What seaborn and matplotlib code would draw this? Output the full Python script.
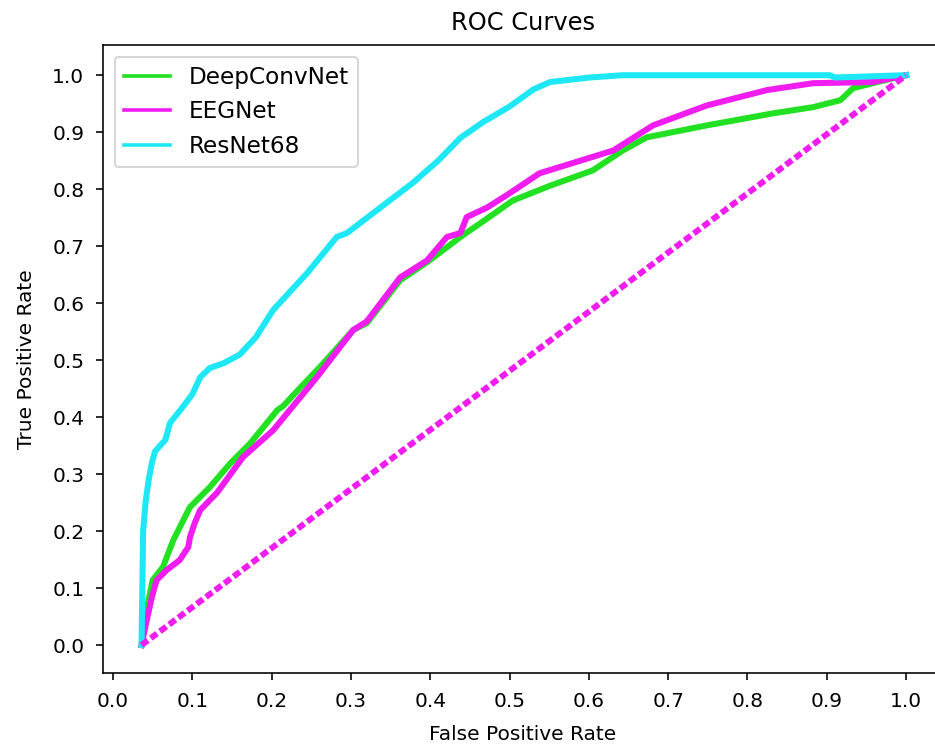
import numpy as np
import pandas as pd
import matplotlib
matplotlib.use("Agg")
import matplotlib.pyplot as plt
import seaborn as sns

# ROC points
fpr_deep = [0.036, 0.042, 0.050, 0.063, 0.076, 0.097, 0.122, 0.148, 0.173, 0.207, 0.215, 0.235,
            0.261, 0.303, 0.320, 0.362, 0.396, 0.421, 0.438, 0.463, 0.504, 0.551, 0.605, 0.643,
            0.673, 0.749, 0.832, 0.883, 0.917, 0.933, 0.958, 1.0]
tpr_deep = [0.0, 0.06, 0.114, 0.137, 0.184, 0.242, 0.277, 0.319, 0.354, 0.412, 0.42, 0.45,
            0.488, 0.553, 0.565, 0.640, 0.672, 0.698, 0.716, 0.740, 0.780, 0.806, 0.833, 0.868,
            0.891, 0.912, 0.933, 0.944, 0.956, 0.977, 0.986, 1.0]

fpr_eeg = [0.036, 0.042, 0.049, 0.055, 0.068, 0.084, 0.095, 0.097, 0.103, 0.110, 0.131, 0.164,
           0.202, 0.257, 0.303, 0.320, 0.362, 0.396, 0.421, 0.438, 0.446, 0.472, 0.497, 0.538,
           0.580, 0.631, 0.681, 0.749, 0.825, 0.883, 0.958, 1.0]
tpr_eeg = [0.0, 0.04, 0.084, 0.114, 0.132, 0.149, 0.172, 0.189, 0.214, 0.237, 0.267, 0.330,
           0.377, 0.47, 0.553, 0.568, 0.645, 0.675, 0.716, 0.723, 0.751, 0.768, 0.790, 0.828,
           0.846, 0.868, 0.912, 0.947, 0.974, 0.986, 0.988, 1.0]

fpr_res = [0.036, 0.037, 0.038, 0.041, 0.045, 0.049, 0.053, 0.066, 0.072, 0.087, 0.100, 0.110,
           0.122, 0.140, 0.160, 0.180, 0.202, 0.245, 0.282, 0.295, 0.328, 0.378, 0.410, 0.438,
           0.467, 0.500, 0.530, 0.551, 0.601, 0.643, 0.904, 0.910, 1.0]
tpr_res = [0.0, 0.1, 0.2, 0.25, 0.29, 0.32, 0.34, 0.36, 0.39, 0.416, 0.44, 0.47,
           0.486, 0.495, 0.51, 0.54, 0.588, 0.653, 0.716, 0.723, 0.758, 0.811, 0.85, 0.89,
           0.918, 0.945, 0.975, 0.988, 0.996, 1.0, 1.0, 0.996, 1.0]

chance_fpr = [0.036, 1.0]
chance_tpr = [0.0, 1.0]

models = ["DeepConvNet", "EEGNet", "ResNet68"]
colors = ["#22e022", "#f01cf0", "#1ee8f5"]

roc_df = pd.concat([
    pd.DataFrame({"fpr": fpr_deep, "tpr": tpr_deep, "model": "DeepConvNet"}),
    pd.DataFrame({"fpr": fpr_eeg, "tpr": tpr_eeg, "model": "EEGNet"}),
    pd.DataFrame({"fpr": fpr_res, "tpr": tpr_res, "model": "ResNet68"}),
], ignore_index=True)

fig = plt.figure(figsize=(935 / 145, 747 / 145), dpi=145)
# axes run past the right edge of the picture (the reference is cropped there)
ax = fig.add_axes([103 / 935, 74 / 747, 857 / 935, 628 / 747])

sns.lineplot(data=roc_df, x="fpr", y="tpr", hue="model", hue_order=models,
             palette=colors, estimator=None, sort=False, linewidth=3, ax=ax)
sns.lineplot(x=chance_fpr, y=chance_tpr, color="#f01cf0", linewidth=3,
             dashes=False, ax=ax, legend=False)
ax.lines[-1].set_dashes((1.3, 0.6))

ax.set_xlim(-0.0126, 1.068)
ax.set_ylim(-0.049, 1.053)
ax.set_xticks(np.arange(0, 1.01, 0.1))
ax.set_yticks(np.arange(0, 1.01, 0.1))
ax.tick_params(pad=5.8, labelsize=10)
ax.set_title("ROC Curves", fontsize=12, x=(523 - 103) / 857, pad=7.5)
ax.set_xlabel("False Positive Rate", fontsize=10)
ax.set_ylabel("True Positive Rate", fontsize=10, labelpad=8)
ax.xaxis.set_label_coords((523 - 103) / 857, -0.083)

leg = ax.legend(loc="upper left", fontsize=11.5)
for h in leg.get_lines():
    h.set_linewidth(1.8)

fig.savefig("out.png", dpi=145)
